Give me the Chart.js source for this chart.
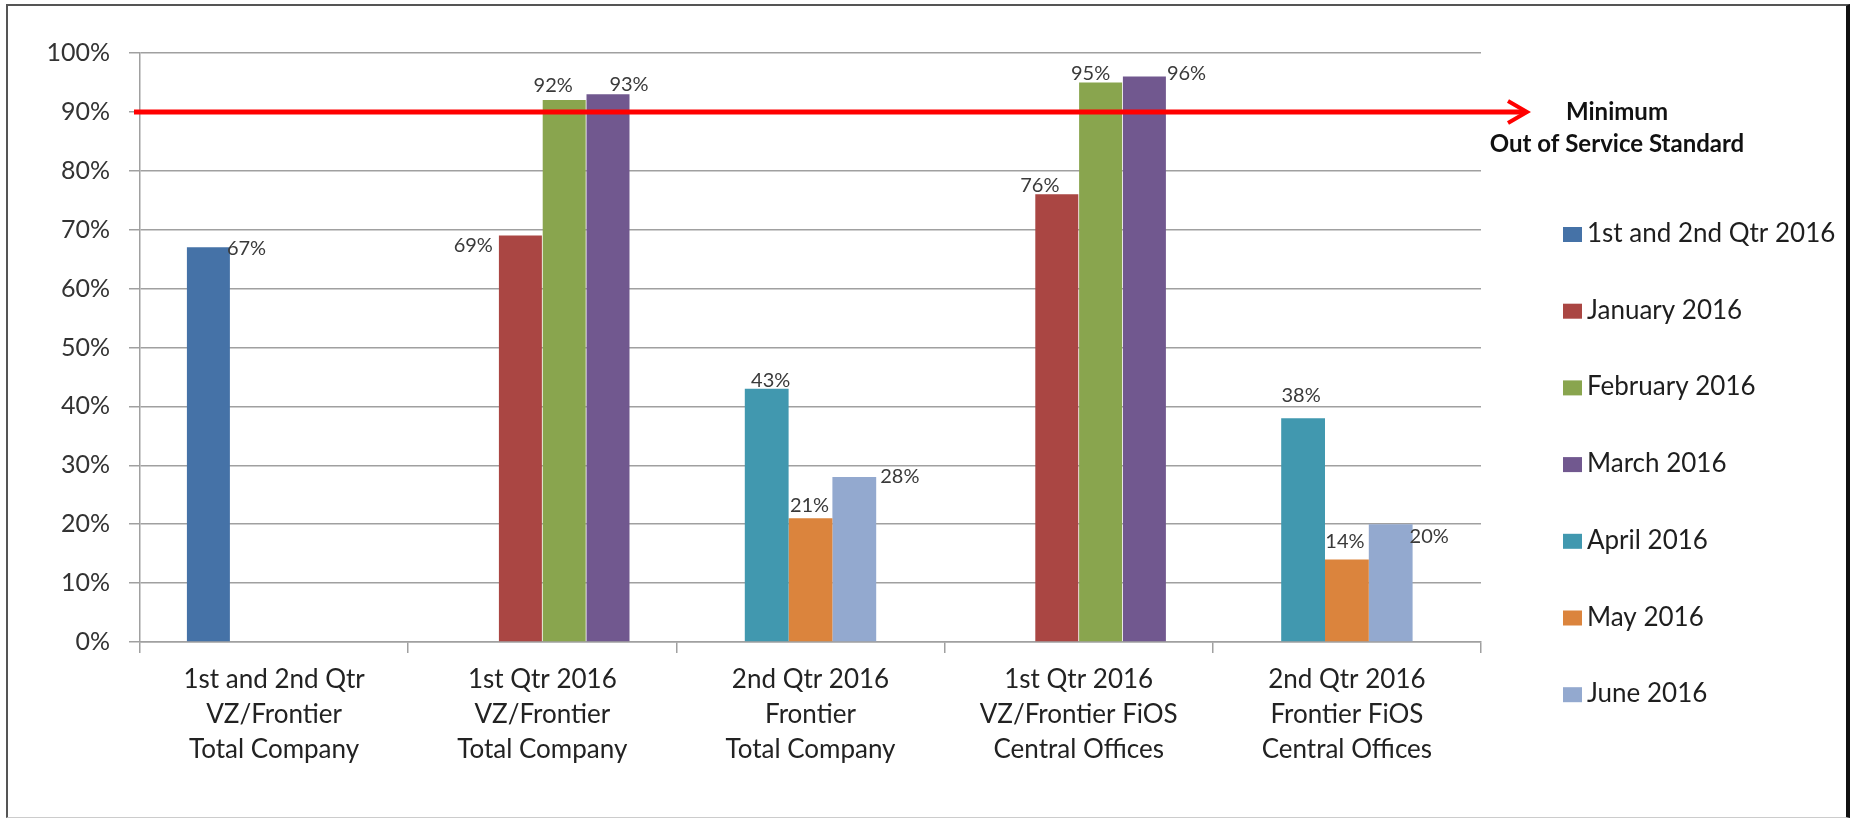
<!DOCTYPE html>
<html>
<head>
<meta charset="utf-8">
<script src="https://cdn.jsdelivr.net/npm/chart.js@4.4.1/dist/chart.umd.min.js"></script>
<style>
  html, body { margin: 0; padding: 0; background: #fff; }
  #wrap { position: relative; width: 1855px; height: 819px; }
  #frame {
    position: absolute; left: 6px; top: 4px; width: 1838px; height: 811px;
    border-top: 2px solid #555; border-left: 2px solid #555;
    border-right: 4px solid #111; border-bottom: 1px solid #ccc;
    pointer-events: none;
  }
</style>
</head>
<body>
<div id="wrap">
  <canvas id="chart" width="1855" height="819"></canvas>
  <div id="frame"></div>
</div>
<script>
const categories = [
  ['1st and 2nd Qtr', 'VZ/Frontier', 'Total Company'],
  ['1st Qtr 2016', 'VZ/Frontier', 'Total Company'],
  ['2nd Qtr 2016', 'Frontier', 'Total Company'],
  ['1st Qtr 2016', 'VZ/Frontier FiOS', 'Central Offices'],
  ['2nd Qtr 2016', 'Frontier FiOS', 'Central Offices']
];

const seriesNames = ['1st and 2nd Qtr 2016', 'January 2016', 'February 2016', 'March 2016',
  'April 2016', 'May 2016', 'June 2016'];
const seriesColors = ['#4572a7', '#aa4643', '#89a54e', '#71588f', '#4198af', '#db843d', '#93a9cf'];

// percent out of service cleared within standard
const q1q2Values = [67, null, null, null, null];
const janValues = [null, 69, null, 76, null];
const febValues = [null, 92, null, 95, null];
const marValues = [null, 93, null, 96, null];
const aprValues = [null, null, 43, null, 38];
const mayValues = [null, null, 21, null, 14];
const junValues = [null, null, 28, null, 20];

const minimumStandard = 90;
const annotationLines = ['Minimum', 'Out of Service Standard'];

// 7 narrow slots per category; each bar spans two of them.
// q1q2/jan/feb/mar take the even slots, apr/may/jun the odd ones, so the
// 4-bar groups sit off centre and the 3-bar groups sit centred, as in Excel
const slotOrder = [0, 2, 4, 6, 1, 3, 5];

// where each value label sits next to its bar: [side, dx, dy]
const labelPos = [
  [['right', -3, 8], null, null, null, null],
  [null, ['left', -6, 16], null, ['top', -17, -2], null],
  [null, ['top', -11, -8], null, ['top', -10, -2], null],
  [null, ['top', 21, -3], null, ['right', 1, 3], null],
  [null, null, ['top', 4, -2], null, ['top', -2, -16]],
  [null, null, ['top', -1, -6], null, ['top', -2, -12]],
  [null, null, ['right', 4, 6], null, ['right', -3, 19]]
];

const allValues = [q1q2Values, janValues, febValues, marValues, aprValues, mayValues, junValues];
const FONT = 'Lato, "Liberation Sans", sans-serif';
const GRID = '#a0a0a0';

const datasets = allValues.map((vals, i) => ({
  label: seriesNames[i],
  data: vals,
  backgroundColor: seriesColors[i],
  borderWidth: 0,
  order: slotOrder[i],
  stack: 'slot' + slotOrder[i],
  categoryPercentage: 0.5716,
  barPercentage: i < 4 ? 1.963 : 2.0
}));

const overlay = {
  id: 'overlay',
  afterDatasetsDraw(chart) {
    const ctx = chart.ctx;
    const ly = chart.scales.y.getPixelForValue(minimumStandard);
    const left = chart.chartArea.left;

    ctx.save();
    ctx.strokeStyle = '#ff0000';
    ctx.lineWidth = 5;
    ctx.beginPath();
    ctx.moveTo(left - 6, ly);
    ctx.lineTo(1525, ly);
    ctx.stroke();
    ctx.lineWidth = 4;
    ctx.beginPath();
    ctx.moveTo(1508, ly - 11);
    ctx.lineTo(1527, ly);
    ctx.lineTo(1508, ly + 11);
    ctx.stroke();

    // value labels
    ctx.font = '20px ' + FONT;
    ctx.fillStyle = '#3a3a3a';
    ctx.textBaseline = 'alphabetic';
    chart.data.datasets.forEach((ds, i) => {
      const meta = chart.getDatasetMeta(i);
      ds.data.forEach((v, j) => {
        const pos = labelPos[i][j];
        if (v == null || !pos) return;
        const bar = meta.data[j];
        const txt = v + '%';
        const [side, dx, dy] = pos;
        if (side === 'top') {
          ctx.textAlign = 'center';
          ctx.fillText(txt, bar.x + dx, bar.y + dy);
        } else if (side === 'right') {
          ctx.textAlign = 'left';
          ctx.fillText(txt, bar.x + bar.width / 2 + dx, bar.y + dy);
        } else {
          ctx.textAlign = 'right';
          ctx.fillText(txt, bar.x - bar.width / 2 + dx, bar.y + dy);
        }
      });
    });
    ctx.restore();
  },
  afterDraw(chart) {
    const ctx = chart.ctx;
    ctx.save();
    // annotation text
    ctx.font = 'bold 24px ' + FONT;
    ctx.fillStyle = '#111';
    ctx.textAlign = 'center';
    ctx.textBaseline = 'alphabetic';
    annotationLines.forEach((t, k) => ctx.fillText(t, 1617, 120 + k * 32));

    // legend, in series order
    ctx.font = '26px ' + FONT;
    ctx.textAlign = 'left';
    chart.data.datasets.forEach((ds, i) => {
      const top = 227 + i * 76.7;
      ctx.fillStyle = ds.backgroundColor;
      ctx.fillRect(1563, top, 19, 15);
      ctx.fillStyle = '#1e1e1e';
      ctx.fillText(ds.label, 1587, top + 15);
    });
    ctx.restore();
  }
};

new Chart(document.getElementById('chart'), {
  type: 'bar',
  data: { labels: categories, datasets },
  plugins: [overlay],
  options: {
    responsive: false,
    animation: false,
    layout: { padding: { top: 53, right: 374, left: 0, bottom: 0 } },
    plugins: { legend: { display: false }, tooltip: { enabled: false } },
    scales: {
      x: {
        offset: true,
        grid: { offset: true, drawOnChartArea: false, drawTicks: true, tickLength: 11, color: GRID, lineWidth: 1.5 },
        border: { display: true, color: GRID, width: 1.5 },
        ticks: { font: { family: FONT, size: 26, lineHeight: 1.35 }, color: '#222', padding: 9, maxRotation: 0, autoSkip: false },
        afterFit: s => { s.height = 177; }
      },
      y: {
        min: 0,
        max: 100,
        grid: { color: GRID, lineWidth: 1.5, tickLength: 11 },
        border: { display: true, color: GRID, width: 1.5 },
        ticks: { stepSize: 10, callback: v => v + '%', font: { family: FONT, size: 25 }, color: '#333', padding: 19 },
        afterFit: s => { s.width = 140; }
      }
    }
  }
});
</script>
</body>
</html>
